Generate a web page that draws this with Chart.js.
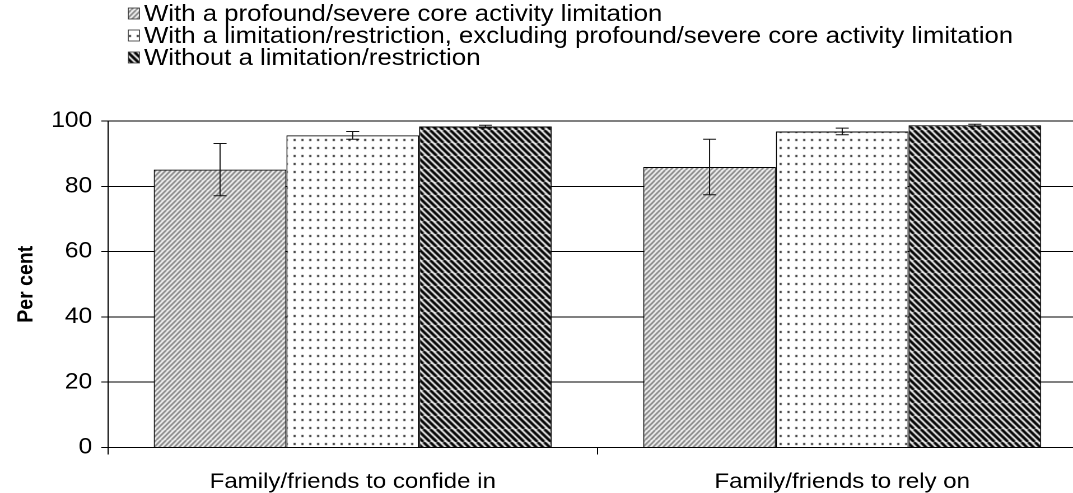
<!DOCTYPE html>
<html>
<head>
<meta charset="utf-8">
<script src="https://cdn.jsdelivr.net/npm/chart.js@4.4.1/dist/chart.umd.min.js"></script>
<style>
  html, body { margin: 0; padding: 0; background: #fff; overflow: hidden; }
  /* chart is drawn narrow and widened so the text keeps its wide look */
  #wrap { position: absolute; left: 0; top: 0; width: 972px; height: 493px;
          transform: scaleX(1.12); transform-origin: 0 0; }
</style>
</head>
<body>
<div id="wrap"><canvas id="myChart"></canvas></div>
<script>
const categories = ['Family/friends to confide in', 'Family/friends to rely on'];
const seriesLabels = [
  'With a profound/severe core activity limitation',
  'With a limitation/restriction, excluding profound/severe core activity limitation',
  'Without a limitation/restriction'
];
const profoundSevere = [85.1, 85.9];
const otherLimitation = [95.6, 96.8];
const noLimitation = [98.3, 98.7];
// 95% confidence margins
const profoundSevereErr = [8.0, 8.5];
const otherLimitationErr = [1.2, 1.0];
const noLimitationErr = [0.4, 0.3];
const yTicks = [0, 20, 40, 60, 80, 100];

const fontFamily = '"Liberation Sans", Arial, sans-serif';

// diagonal hatching; dir 1 = "/", dir -1 = "\"
function stripePattern(w, h, n, lineW, colour, dir) {
  const c = document.createElement('canvas');
  c.width = w; c.height = h;
  const g = c.getContext('2d');
  g.fillStyle = '#fff';
  g.fillRect(0, 0, w, h);
  g.strokeStyle = colour;
  g.lineWidth = lineW;
  g.beginPath();
  for (let k = -n; k <= 2 * n; k++) {
    const x0 = k * w / n;
    if (dir > 0) { g.moveTo(x0, h); g.lineTo(x0 + w, 0); }
    else { g.moveTo(x0, 0); g.lineTo(x0 + w, h); }
  }
  g.stroke();
  return g.createPattern(c, 'repeat');
}

function dotPattern(w, h, colour) {
  const c = document.createElement('canvas');
  c.width = w; c.height = h;
  const g = c.getContext('2d');
  g.fillStyle = '#fff';
  g.fillRect(0, 0, w, h);
  g.fillStyle = colour;
  g.fillRect(3, 3, 2, 2);
  return g.createPattern(c, 'repeat');
}

const fills = [
  stripePattern(9, 10, 2, 1.7, '#7a7a7a', 1),
  dotPattern(7, 8, '#333'),
  stripePattern(12, 13, 2, 2.6, '#000', -1)
];

const errorBars = {
  id: 'errorBars',
  afterDatasetsDraw(chart) {
    const {ctx, scales: {y}} = chart;
    ctx.save();
    ctx.strokeStyle = '#111';
    ctx.lineWidth = 1;
    chart.data.datasets.forEach((ds, i) => {
      chart.getDatasetMeta(i).data.forEach((bar, j) => {
        const v = ds.data[j], e = ds.errors[j];
        const top = y.getPixelForValue(v + e);
        const bot = y.getPixelForValue(v - e);
        const x = bar.x;
        ctx.beginPath();
        ctx.moveTo(x, top); ctx.lineTo(x, bot);
        ctx.moveTo(x - 5.8, top); ctx.lineTo(x + 5.8, top);
        ctx.moveTo(x - 5.8, bot); ctx.lineTo(x + 5.8, bot);
        ctx.stroke();
      });
    });
    ctx.restore();
  }
};

// stacked legend in the top left corner
const legendBoxes = {
  id: 'legendBoxes',
  afterDraw(chart) {
    const ctx = chart.ctx;
    ctx.save();
    ctx.font = '23px ' + fontFamily;
    ctx.textBaseline = 'middle';
    chart.data.datasets.forEach((ds, i) => {
      const y = 13.5 + i * 22;
      ctx.fillStyle = ds.backgroundColor;
      ctx.fillRect(114.5, y - 5.5, 10, 11);
      ctx.strokeStyle = '#333';
      ctx.lineWidth = 0.8;
      ctx.strokeRect(114.5, y - 5.5, 10, 11);
      ctx.fillStyle = '#000';
      ctx.fillText(ds.label, 128.6, y + 1);
    });
    ctx.restore();
  }
};

const seriesData = [profoundSevere, otherLimitation, noLimitation];
const seriesErr = [profoundSevereErr, otherLimitationErr, noLimitationErr];

const ctx = document.getElementById('myChart').getContext('2d');
const myChart = new Chart(ctx, {
  type: 'bar',
  data: {
    labels: categories,
    datasets: seriesLabels.map((label, i) => ({
      label: label,
      data: seriesData[i],
      errors: seriesErr[i],
      backgroundColor: fills[i],
      borderColor: '#000',
      borderWidth: 1,
      categoryPercentage: 0.813,
      barPercentage: 1.0
    }))
  },
  options: {
    responsive: true,
    maintainAspectRatio: false,
    animation: false,
    devicePixelRatio: 2,
    layout: { padding: { top: 121, left: 8, right: 1.5, bottom: 0 } },
    plugins: {
      legend: { display: false },
      tooltip: { enabled: false }
    },
    scales: {
      x: {
        afterFit: scale => { scale.height = 45.5; },
        grid: { offset: true, drawOnChartArea: false, tickLength: 7, color: '#000' },
        border: { color: '#000', width: 1 },
        ticks: { color: '#000', font: { size: 21.5, family: fontFamily }, padding: 14.5, maxRotation: 0 }
      },
      y: {
        min: 0,
        max: 100,
        afterFit: scale => { scale.width = 88.4; },
        afterBuildTicks: axis => { axis.ticks = yTicks.map(v => ({ value: v })); },
        ticks: { color: '#000', font: { size: 22, family: fontFamily }, padding: 8 },
        grid: {
          tickLength: 6,
          color: c => (c.tick && c.tick.value === 100) ? '#808080' : '#000',
          lineWidth: c => (c.tick && c.tick.value === 100) ? 2 : 1
        },
        border: { color: '#000', width: 1 },
        title: {
          display: true,
          text: 'Per cent',
          color: '#000',
          font: { size: 19.5, weight: 'bold', family: fontFamily },
          padding: { top: 4, bottom: 0 }
        }
      }
    }
  },
  plugins: [errorBars, legendBoxes]
});
</script>
</body>
</html>
